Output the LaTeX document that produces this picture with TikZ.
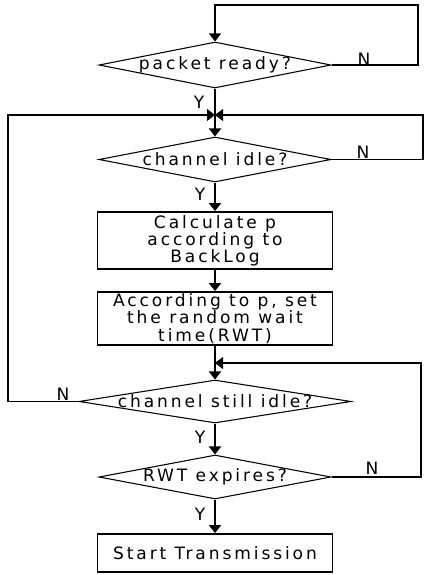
\documentclass[tikz,border=0pt]{standalone}
\usepackage{fontspec}
\setmainfont{DejaVu Sans}[LetterSpace=17]
\usetikzlibrary{arrows.meta,shapes.geometric}
\begin{document}
\begin{tikzpicture}[x=0.75pt,y=-0.75pt,
  font=\fontsize{12.8pt}{12.9pt}\selectfont,
  dia/.style={draw, shape=diamond, inner sep=0pt, line width=0.8pt},
  box/.style={draw, rectangle, line width=1.4pt, align=center, inner sep=0pt, minimum width=176.25pt},
  thinline/.style={line width=0.8pt},
  mainflow/.style={line width=1.9pt},
  arr/.style={-{Triangle[width=9pt,length=6pt]}},
  lbl/.style={inner sep=0pt}]
\useasboundingbox (0,0) rectangle (425,575);

\node[dia, minimum width=174pt, minimum height=34.5pt, label={center:packet ready?}] (d1) at (215,65) {};
\node[dia, minimum width=174pt, minimum height=33.75pt, label={center:channel idle?}] (d2) at (215,159.5) {};
\node[box, minimum height=42.75pt] (b1) at (215,240.5) {Calculate p\\according to\\BackLog};
\node[box, minimum height=39.75pt] (b2) at (215,318.5) {According to p, set\\the random wait\\time(RWT)};
\node[dia, minimum width=204pt, minimum height=32.25pt, label={center:channel still idle?}] (d3) at (215,401.5) {};
\node[dia, minimum width=174pt, minimum height=33pt, label={center:RWT expires?}] (d4) at (215,477) {};
\node[box, minimum height=28.5pt] (b3) at (215,553) {Start Transmission};

\coordinate (m1) at (215,115);
\coordinate (m2) at (215,363);
\coordinate (c1) at (418,5);
\coordinate (c2) at (423,115);
\coordinate (c3) at (8,115);
\coordinate (c4) at (421,363);

% loops
\draw[thinline,arr] (d1.east) -| (c1) -| (d1.north);
\draw[thinline,arr] (d2.east) -| (c2) -- (m1);
\draw[thinline,arr] (d3.west) -| (c3) -- (m1);
\draw[thinline,arr] (d4.east) -| (c4) -- (m2);

% main flow
\draw[mainflow] (d1.south) -- (m1);
\draw[mainflow,arr] (m1) -- (d2.north);
\draw[mainflow,arr] (d2.south) -- (b1.north);
\draw[mainflow,arr] (b1.south) -- (b2.north);
\draw[mainflow,arr] (b2.south) -- (d3.north);
\draw[mainflow,arr] (d3.south) -- (d4.north);
\draw[mainflow,arr] (d4.south) -- (b3.north);

% labels
\node[lbl] (n1) at (364,59) {N};
\node[lbl] (n2) at (363,152) {N};
\node[lbl] (n3) at (63,394) {N};
\node[lbl] (n4) at (372,468) {N};
\node[lbl] (y1) at (199,102) {Y};
\node[lbl] (y2) at (200,194) {Y};
\node[lbl] (y3) at (200,437) {Y};
\node[lbl] (y4) at (200,514) {Y};
\end{tikzpicture}
\end{document}
